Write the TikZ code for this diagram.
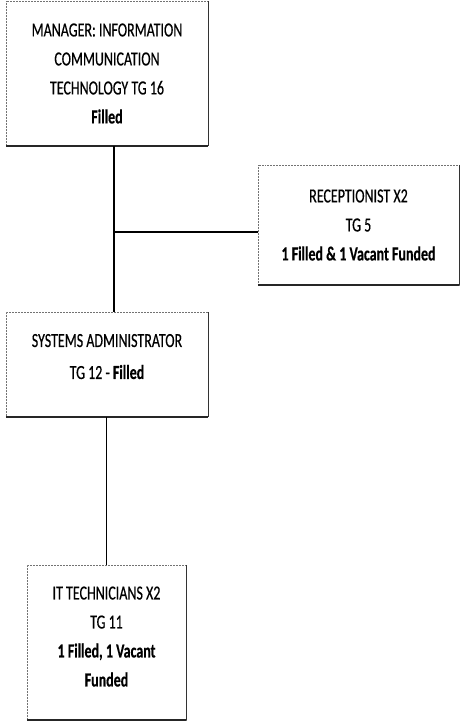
\documentclass[tikz,border=0pt]{standalone}
\usepackage{fontspec}
\setmainfont{Carlito}[FakeStretch=0.7, FakeBold=0.4]
\begin{document}
\begin{tikzpicture}[x=1pt,y=-1pt,
  orgbox/.style={draw=black!55, densely dotted, line width=0.5pt, align=center,
    inner sep=0pt, font=\fontsize{20}{29}\selectfont},
  shadowedge/.style={draw=black!85, line width=1.6pt},
  sideedge/.style={draw=black!80, line width=0.8pt},
  link/.style={draw=black, line width=1.4pt}]
\useasboundingbox (0,0) rectangle (461,724);
\node[orgbox, minimum width=202pt, minimum height=145pt] (m) at (107,73.5)
  {MANAGER: INFORMATION\\COMMUNICATION\\TECHNOLOGY TG 16\\\textbf{Filled}};
\node[orgbox, minimum width=201pt, minimum height=120pt] (r) at (358.5,225)
  {RECEPTIONIST X2\\TG 5\\\textbf{1 Filled \& 1 Vacant Funded}};
\node[orgbox, minimum width=202pt, minimum height=105pt] (s) at (107,364.5)
  {SYSTEMS ADMINISTRATOR\\[3pt]TG 12 - \textbf{Filled}\\[-13pt]};
\node[orgbox, minimum width=159pt, minimum height=155pt] (t) at (106.5,642.5)
  {IT TECHNICIANS X2\\TG 11\\\textbf{1 Filled, 1 Vacant}\\\textbf{Funded}\\[-17pt]};
\foreach \b in {m,r,s,t}{
  \draw[sideedge] (\b.north east) -- (\b.south east);
  \draw[shadowedge] (\b.south west) -- (\b.south east);
}
\coordinate (j) at (114,232);
\draw[link] (m.south -| j) -- (s.north -| j);
\draw[link] (j) -- (r.west |- j);
\draw[link] (s.south -| t.north) -- (t.north);
\end{tikzpicture}
\end{document}
